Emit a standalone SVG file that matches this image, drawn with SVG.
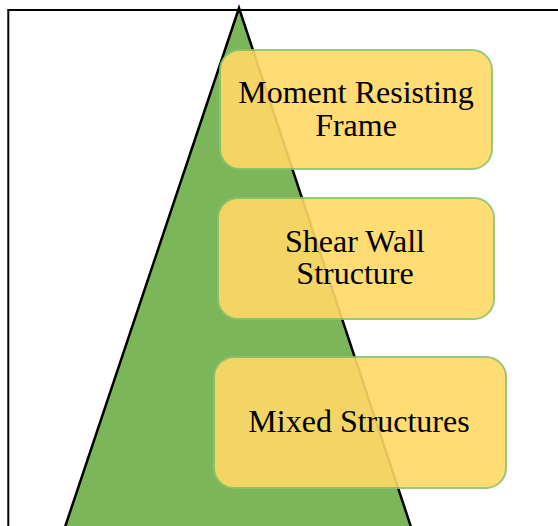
<svg xmlns="http://www.w3.org/2000/svg" width="558" height="526" viewBox="0 0 558 526">
<style>
.box{fill:#ffd966;stroke:#8dc46a;stroke-width:2;opacity:0.9}
.lbl{font-family:"Liberation Serif","Times New Roman",serif;font-size:32px;fill:#000;text-anchor:middle}
</style>
<rect width="558" height="526" fill="#fff"/>
<g id="frame"><path d="M8.3,530 V10 H562" fill="none" stroke="#000" stroke-width="2"/></g>
<g id="pyramid"><polygon points="239,8 64,530 412,530" fill="#7db65a" stroke="#000" stroke-width="2.5" stroke-linejoin="miter"/></g>
<g id="connectors"></g>
<g id="node1"><rect class="box" x="220" y="50" width="272" height="119" rx="20"/>
<text class="lbl" x="356" y="103">Moment Resisting</text><text class="lbl" x="356" y="136">Frame</text></g>
<g id="node2"><rect class="box" x="218" y="198" width="276" height="121" rx="20"/>
<text class="lbl" x="355" y="252">Shear Wall</text><text class="lbl" x="355" y="284">Structure</text></g>
<g id="node3"><rect class="box" x="214" y="357" width="292" height="131" rx="20"/>
<text class="lbl" x="359" y="432">Mixed Structures</text></g>
</svg>
